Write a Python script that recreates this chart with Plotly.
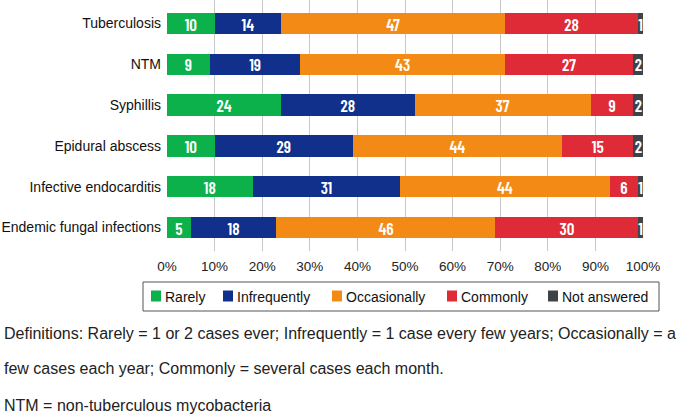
import plotly.graph_objects as go

categories = [
    "Tuberculosis",
    "NTM",
    "Syphillis",
    "Epidural abscess",
    "Infective endocarditis",
    "Endemic fungal infections",
]
rarely = [10, 9, 24, 10, 18, 5]
infrequently = [14, 19, 28, 29, 31, 18]
occasionally = [47, 43, 37, 44, 44, 46]
commonly = [28, 27, 9, 15, 6, 30]
not_answered = [1, 2, 2, 2, 1, 1]

tick_values = [0, 10, 20, 30, 40, 50, 60, 70, 80, 90, 100]
tick_labels = ["0%", "10%", "20%", "30%", "40%", "50%", "60%", "70%", "80%", "90%", "100%"]

series = [
    ("Rarely", rarely, "#0CB14B"),
    ("Infrequently", infrequently, "#10308C"),
    ("Occasionally", occasionally, "#F38A15"),
    ("Commonly", commonly, "#DF2B37"),
    ("Not answered", not_answered, "#3E4347"),
]

BAR_FONT = "Barlow Condensed, Roboto Condensed, Archivo Narrow, DejaVu Sans Condensed, sans-serif"
TEXT_FONT = "Liberation Sans, Arial, sans-serif"

W, H = 684, 415
plot_top, plot_bottom = 0, 251
plot_left, plot_right = 167, 643
ph = plot_bottom - plot_top
pw = plot_right - plot_left


def px_x(x):
    return (x - plot_left) / pw


def px_y(y):
    return (plot_bottom - y) / ph


fig = go.Figure()
for name, values, color in series:
    fig.add_trace(
        go.Bar(
            y=categories,
            x=values,
            name=name,
            orientation="h",
            marker=dict(color=color, line=dict(width=0)),
            text=values,
            textposition="inside",
            insidetextanchor="middle",
            textangle=0,
            textfont=dict(family=BAR_FONT, size=17, color="white", weight=600),
            hoverinfo="skip",
            showlegend=False,
        )
    )

fig.update_layout(
    barmode="stack",
    bargap=0.473,
    width=W,
    height=H,
    margin=dict(l=plot_left, r=W - plot_right, t=plot_top, b=H - plot_bottom, pad=0),
    plot_bgcolor="white",
    paper_bgcolor="white",
    font=dict(family=TEXT_FONT, size=14, color="#222222"),
    uniformtext=dict(minsize=15, mode="show"),
    showlegend=False,
    xaxis=dict(
        range=[0, 100],
        tickvals=tick_values,
        ticktext=tick_labels,
        showgrid=True,
        gridcolor="#C9C9C9",
        gridwidth=1,
        zeroline=False,
        showline=False,
        ticks="",
        tickfont=dict(size=13.5, color="#222222"),
        ticklabelstandoff=5,
    ),
    yaxis=dict(
        categoryorder="array",
        categoryarray=categories[::-1],
        range=[-0.576, 5.576],
        showgrid=False,
        zeroline=False,
        ticks="",
        tickfont=dict(size=14, color="#111111"),
        ticklabelstandoff=5,
    ),
)

# legend drawn as a boxed row below the axis
legend_box = (143, 282, 659, 311)
legend_pos = [151, 223, 332, 447, 548]
fig.add_shape(
    type="rect",
    xref="paper",
    yref="paper",
    x0=px_x(legend_box[0]),
    x1=px_x(legend_box[2]),
    y0=px_y(legend_box[1]),
    y1=px_y(legend_box[3]),
    line=dict(color="#555555", width=1),
    fillcolor="white",
)
ly = (legend_box[1] + legend_box[3]) / 2
for (name, _, color), lx in zip(series, legend_pos):
    fig.add_shape(
        type="rect",
        xref="paper",
        yref="paper",
        x0=px_x(lx),
        x1=px_x(lx + 10),
        y0=px_y(ly - 6),
        y1=px_y(ly + 5),
        line=dict(width=0),
        fillcolor=color,
    )
    fig.add_annotation(
        text=name,
        xref="paper",
        yref="paper",
        x=px_x(lx + 12),
        y=px_y(ly),
        xanchor="left",
        yanchor="middle",
        showarrow=False,
        font=dict(family=TEXT_FONT, size=14, color="#111111"),
    )

notes = [
    ("Definitions: Rarely = 1 or 2 cases ever; Infrequently = 1 case every few years; Occasionally = a", 333),
    ("few cases each year; Commonly = several cases each month.", 368),
    ("NTM = non-tuberculous mycobacteria", 405),
]
for text, ypix in notes:
    fig.add_annotation(
        text=text,
        xref="paper",
        yref="paper",
        x=px_x(2),
        y=px_y(ypix),
        xanchor="left",
        yanchor="middle",
        showarrow=False,
        font=dict(family=TEXT_FONT, size=16, color="#222222"),
    )

fig.write_html(
    "out.html",
    config={"displayModeBar": False},
    post_script="document.body.style.margin='0';",
)
